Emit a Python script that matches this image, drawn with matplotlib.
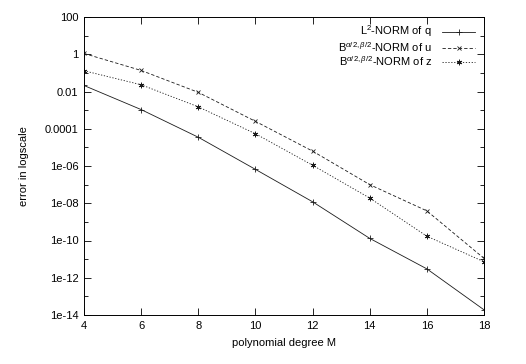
import numpy as np
import matplotlib
matplotlib.use("Agg")
from matplotlib import pyplot as plt
from matplotlib.ticker import FixedLocator, NullFormatter

plt.rcParams['font.family'] = ['Liberation Sans', 'DejaVu Sans']
plt.rcParams['mathtext.fontset'] = 'custom'
plt.rcParams['mathtext.rm'] = 'Liberation Sans'
plt.rcParams['mathtext.it'] = 'Liberation Sans:italic'

# data
degree = [4, 6, 8, 10, 12, 14, 16, 18]
err_q = [2.1e-2, 1.07e-3, 3.5e-5, 6.6e-7, 1.2e-8, 1.3e-10, 3.0e-12, 1.9e-14]
err_u = [1.1, 1.35e-1, 9.0e-3, 2.5e-4, 6.3e-6, 1.0e-7, 3.9e-9, 1.1e-11]
err_z = [1.3e-1, 2.3e-2, 1.5e-3, 5.4e-5, 1.1e-6, 1.9e-8, 1.7e-10, 7.2e-12]

labels = [r'$\mathrm{L}^2$-NORM of q',
          r'$\mathrm{B}^{\alpha/2,\beta/2}$-NORM of u',
          r'$\mathrm{B}^{\alpha/2,\beta/2}$-NORM of z']

ytick_vals = [1e2, 1e0, 1e-2, 1e-4, 1e-6, 1e-8, 1e-10, 1e-12, 1e-14]
ytick_text = ['100', '1', '0.01', '0.0001', '1e-06', '1e-08',
              '1e-10', '1e-12', '1e-14']
xtick_vals = [4, 6, 8, 10, 12, 14, 16, 18]

fig = plt.figure(figsize=(5.26, 3.64), dpi=100)
ax = fig.add_axes([84 / 526, 1 - 315 / 364, 400 / 526, 298 / 364])

lc = '#1a1a1a'
ax.plot(degree, err_q, color=lc, lw=0.6, marker='+', ms=4.5,
        mew=0.6, label=labels[0])
ax.plot(degree, err_u, color=lc, lw=0.6, ls=(0, (4, 2.5)),
        marker='x', ms=3.5, mew=0.6, label=labels[1])
ax.plot(degree, err_z, color=lc, lw=0.6, ls=(0, (1.5, 2)),
        marker=(6, 2, 0), ms=4, mew=0.6, label=labels[2])

ax.set_yscale('log')
ax.set_xlim(4, 18)
ax.set_ylim(1e-14, 1e2)
ax.yaxis.set_major_locator(FixedLocator(ytick_vals))
ax.set_yticklabels(ytick_text)
ax.yaxis.set_minor_locator(FixedLocator([10.0 ** k for k in range(-13, 2, 2)]))
ax.yaxis.set_minor_formatter(NullFormatter())
ax.set_xticks(xtick_vals)
ax.set_xticklabels([str(v) for v in xtick_vals])

ax.tick_params(which='both', direction='in', top=True, right=True,
               labelsize=8, width=0.6, pad=4, colors='black')
ax.tick_params(which='major', length=5)
ax.tick_params(which='minor', length=3)
for s in ax.spines.values():
    s.set_linewidth(0.7)

ax.set_xlabel('polynomial degree M', fontsize=8, labelpad=5)
ax.set_ylabel('error in logscale', fontsize=8, labelpad=11)

leg = ax.legend(loc='upper right', bbox_to_anchor=(0.995, 1.0),
                frameon=False, markerfirst=False, fontsize=8,
                handlelength=3.0, handletextpad=0.9, labelspacing=0.05,
                borderaxespad=0.2)

fig.savefig('out.png', dpi=100)
